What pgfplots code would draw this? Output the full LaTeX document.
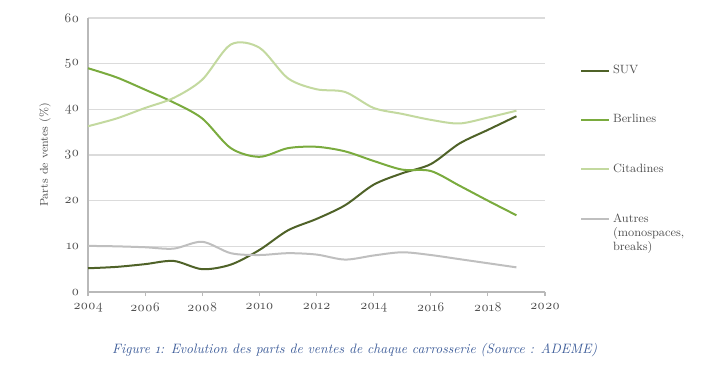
\documentclass[border=0pt]{standalone}
\usepackage{fontspec}
\setmainfont{Latin Modern Roman}[Numbers=OldStyle]
\usepackage{pgfplots}
\pgfplotsset{compat=1.18}
\definecolor{suv}{HTML}{4F6228}
\definecolor{berl}{HTML}{7AAB3E}
\definecolor{cita}{HTML}{C3D99F}
\definecolor{autr}{HTML}{BFBFBF}
\definecolor{txt}{HTML}{505050}
\definecolor{capc}{HTML}{3F5E9A}
\begin{document}
\begin{tikzpicture}
\useasboundingbox (0,0) rectangle (540pt,282pt);
\begin{axis}[
  at={(66pt,63pt)}, anchor=south west,
  scale only axis, width=342.75pt, height=205.5pt,
  xmin=2004, xmax=2020, ymin=0, ymax=60,
  xtick={2004,2006,...,2020}, ytick={0,10,...,60},
  /pgf/number format/set thousands separator={},
  /pgf/number format/assume math mode=true,
  axis lines*=left,
  axis line style={draw=gray!55, line width=0.8pt},
  every outer x axis line/.append style={-},
  every outer y axis line/.append style={-},
  ymajorgrids, grid style={draw=gray!28, line width=0.8pt},
  ytick style={draw=none},
  xtick style={draw=gray!55, line width=0.8pt},
  tick align=outside, major tick length=3pt,
  tick label style={font=\fontsize{10}{12}\selectfont, text=txt},
  xticklabel style={yshift=-1.5pt},
  ylabel={Parts de ventes (\%)},
  ylabel style={at={(axis description cs:-0.094,0.5)}, anchor=center, rotate=0, font=\fontsize{8.5}{10}\selectfont, text=txt},
  legend style={at={(1.068,0.847)}, anchor=north west, draw=none, fill=none,
    font=\fontsize{9}{10.5}\selectfont, text=txt, row sep=25pt,
    /tikz/every even column/.append style={column sep=1pt}},
  legend cell align=left,
  legend image code/.code={\draw[#1, line width=1.5pt] (0pt,0pt) -- (21pt,0pt);},
  every axis plot/.append style={smooth, tension=0.5, line width=1.5pt, no markers},
  clip=false,
]
\addplot[suv] coordinates {(2004,5.2)(2005,5.5)(2006,6.1)(2007,6.8)(2008,5.0)(2009,6.0)(2010,9.2)(2011,13.5)(2012,16)(2013,19)(2014,23.5)(2015,26)(2016,28)(2017,32.5)(2018,35.5)(2019,38.5)};
\addlegendentry{SUV}
\addplot[berl] coordinates {(2004,49)(2005,47)(2006,44.3)(2007,41.5)(2008,38)(2009,31.5)(2010,29.6)(2011,31.5)(2012,31.8)(2013,30.8)(2014,28.7)(2015,26.8)(2016,26.5)(2017,23.3)(2018,20)(2019,16.8)};
\addlegendentry{Berlines}
\addplot[cita] coordinates {(2004,36.3)(2005,38)(2006,40.3)(2007,42.5)(2008,46.5)(2009,54.2)(2010,53.5)(2011,46.8)(2012,44.4)(2013,43.8)(2014,40.3)(2015,39)(2016,37.7)(2017,36.9)(2018,38.2)(2019,39.7)};
\addlegendentry{Citadines}
\addplot[autr] coordinates {(2004,10.1)(2005,10)(2006,9.8)(2007,9.5)(2008,11)(2009,8.5)(2010,8.1)(2011,8.5)(2012,8.2)(2013,7.1)(2014,8)(2015,8.7)(2016,8.1)(2017,7.2)(2018,6.3)(2019,5.4)};
\addlegendentry{\raisebox{0pt}[\height][0pt]{\begin{tabular}[t]{@{}l@{}}Autres\\(monospaces,\\breaks)\end{tabular}}}
\end{axis}
\node[font=\fontsize{10.2}{12}\selectfont\itshape, text=capc] at (266pt,19.5pt) {Figure 1: Evolution des parts de ventes de chaque carrosserie (Source : ADEME)};
\end{tikzpicture}
\end{document}
